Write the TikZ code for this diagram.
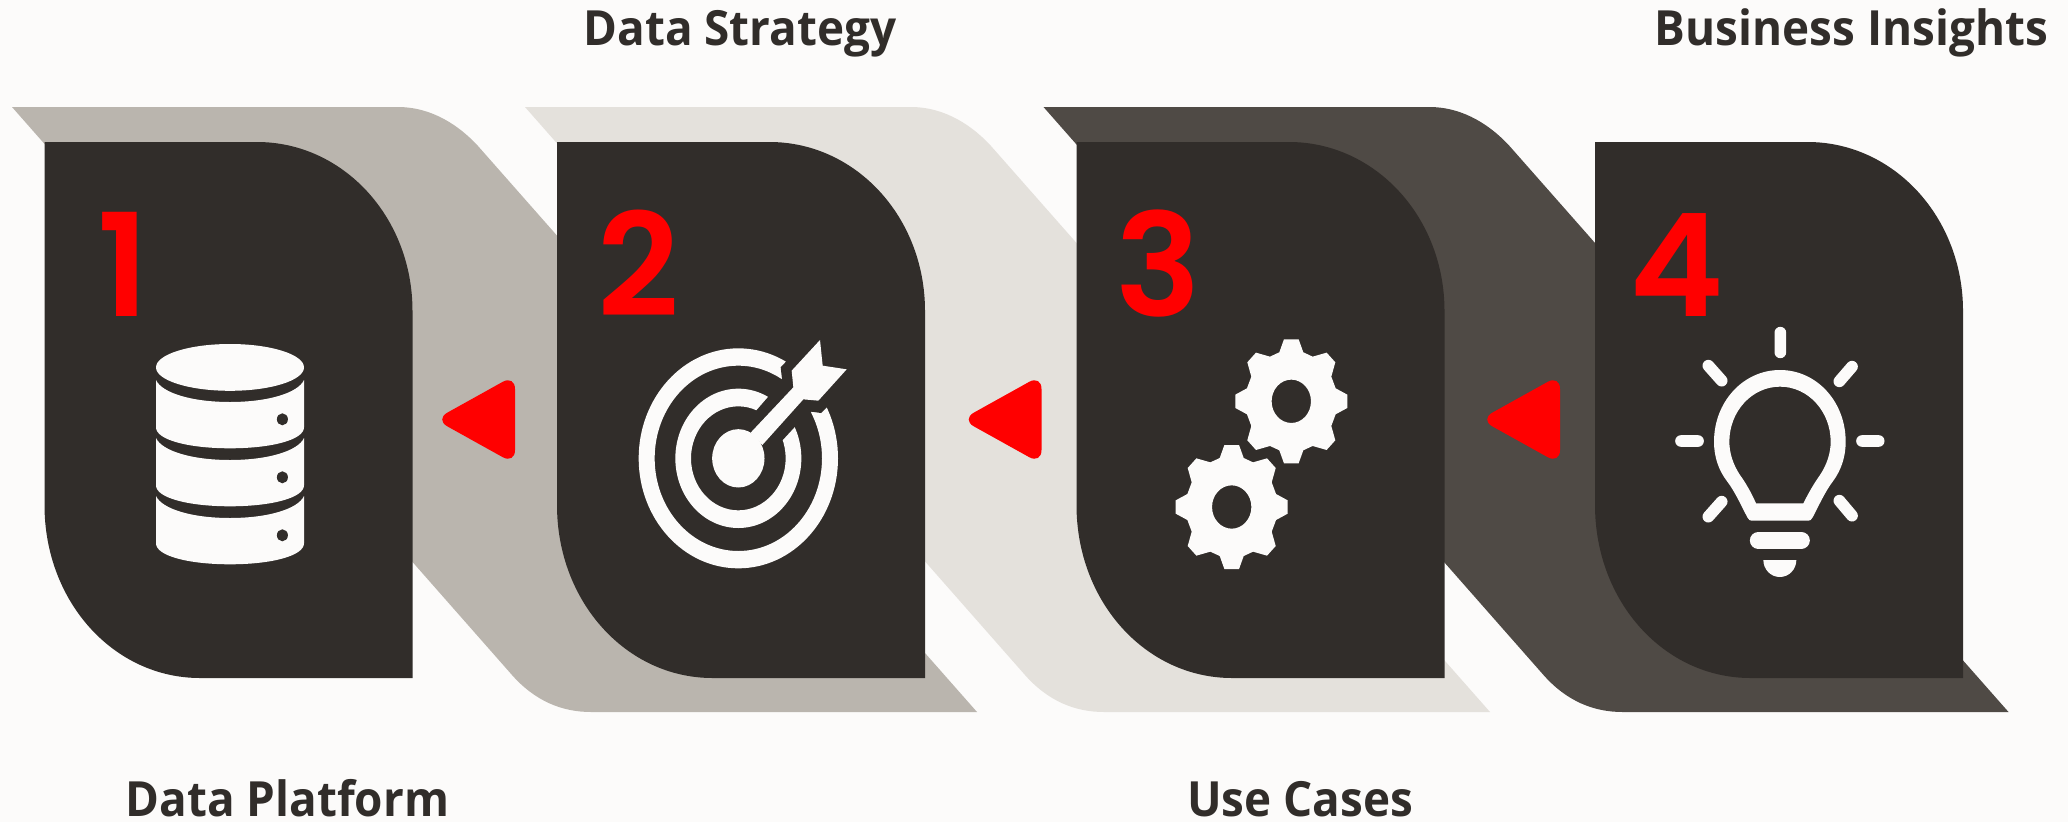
\documentclass[tikz,border=0pt]{standalone}
\usepackage{fontspec}
\setmainfont{Open Sans}
\newfontfamily\capfont[FakeStretch=0.945]{Open Sans}
\newfontfamily\numfont{Poppins SemiBold}
\definecolor{bgc}{HTML}{FCFBFA}
\definecolor{cardc}{HTML}{312D2A}
\definecolor{shA}{HTML}{BAB5AE}
\definecolor{shB}{HTML}{E4E1DC}
\definecolor{shC}{HTML}{4F4A45}
\definecolor{redc}{HTML}{FF0000}
\tikzset{
  caption/.style={anchor=base,inner sep=0pt,text=cardc,font=\capfont\fontsize{48.5}{58}\selectfont\bfseries},
  numeral/.style={anchor=base,inner sep=0pt,text=redc,font=\numfont\fontsize{143}{150}\selectfont},
  zoomed/.style={x=0.33333pt,y=-0.33333pt},
}
\newcommand{\shadowband}[2]{\fill[#2,shift={(#1,0)}] (12,107) -- (398,107) .. controls (426,107) and (454,120) .. (478,146) -- (977,712) -- (591,712) .. controls (562,712) and (535,701) .. (512,675) -- cycle;}
\newcommand{\cardbody}[1]{\fill[cardc,shift={(#1,0)}] (44.5,142) -- (257,142) .. controls (343,142) and (412.5,217) .. (412.5,311) -- (412.5,678) -- (200,678) .. controls (114,678) and (44.5,602) .. (44.5,505) -- cycle;}
\newcommand{\pointer}[1]{\fill[redc,rounded corners=14pt,shift={(#1,0)}] (435,419.5) -- (515,375) -- (515,464) -- cycle;}
\newcommand{\gearicon}[2]{\begin{scope}[shift={(#1,#2)},zoomed]
\fill[bgc,even odd rule] (-22,-186)--(22,-186)--(36,-147)--(64,-134)--(106,-146)--(132,-117)--(120,-74)--(133,-39)--(168,-20)--(168,20)--(133,39)--(120,74)--(132,117)--(106,146)--(64,134)--(36,147)--(22,186)--(-22,186)--(-36,147)--(-64,134)--(-106,146)--(-132,117)--(-120,74)--(-133,39)--(-168,20)--(-168,-20)--(-133,-39)--(-120,-74)--(-132,-117)--(-106,-146)--(-64,-134)--(-36,-147)--cycle (0,0) ellipse [x radius=59,y radius=65];
\end{scope}}
\begin{document}
\begin{tikzpicture}[x=1pt,y=-1pt]
\useasboundingbox (0,0) rectangle (2068,822);
\fill[bgc] (0,0) rectangle (2068,822);
\shadowband{0}{shA}
\shadowband{513}{shB}
\shadowband{1031.5}{shC}
\cardbody{0}
\cardbody{512.5}
\cardbody{1032}
\cardbody{1550.5}
\pointer{0}
\pointer{526.5}
\pointer{1045}
% numbers
\node[numeral] (n1) at (123,316.5) {1};
\node[numeral] (n2) at (638.5,316.5) {2};
\node[numeral] (n3) at (1158.5,316.5) {3};
\node[numeral] (n4) at (1677,316.5) {4};
% captions
\node[caption] (c1) at (287.5,816.5) {Data Platform};
\node[caption] (c2) at (740,45) {Data Strategy};
\node[caption] (c3) at (1300,816.5) {Use Cases};
\node[caption] (c4) at (1851.5,45) {Business Insights};
% database icon
\fill[bgc] (230,367.4) ellipse [x radius=74,y radius=23.4];
\foreach \d in {0,58,116}{
  \fill[bgc,shift={(0,\d)}] (156,380) .. controls (162,393) and (192,402) .. (230,402) .. controls (268,402) and (298,393) .. (304,380) -- (304,427.3) .. controls (304,440) and (271,448.3) .. (230,448.3) .. controls (189,448.3) and (156,440) .. (156,427.3) -- cycle;
  \fill[cardc] (282.4,419.3+\d) ellipse [x radius=5.5,y radius=6];
}
% target icon
\begin{scope}[shift={(560,310)},zoomed]
\fill[bgc,even odd rule] (535,445) ellipse [x radius=299,y radius=330] (535,445) ellipse [x radius=251,y radius=278];
\fill[bgc,even odd rule] (535,445) ellipse [x radius=189,y radius=209] (535,445) ellipse [x radius=142,y radius=156];
\fill[cardc] (690,130) -- (678,155) -- (662,172) -- (666,207) -- (625,260) -- (592,298) -- (570,325) -- (640,410) -- (670,388) -- (705,350) -- (755,305) -- (783,309) -- (800,292) -- (840,250) -- (760,100) -- cycle;
\fill[bgc] (535,445) ellipse [x radius=78.5,y radius=87.5];
\fill[bgc] (572,368) -- (700,232) -- (695,182) -- (780,90) -- (788,167) -- (860,178) -- (775,272) -- (730,268) -- (607,405) -- cycle;
\end{scope}
% gears
\gearicon{1291.3}{401.3}
\gearicon{1231.7}{507}
% bulb icon
\begin{scope}[shift={(1640,310)},zoomed]
\fill[bgc,even odd rule] (322,622) .. controls (305,590) and (285,545) .. (262,515) .. controls (235,480) and (222,440) .. (222,395) .. controls (222,275) and (310,180) .. (420,180) .. controls (530,180) and (617,275) .. (617,395) .. controls (617,440) and (604,480) .. (578,515) .. controls (555,545) and (535,590) .. (518,622) .. controls (514,630) and (510,632) .. (505,632) -- (335,632) .. controls (330,632) and (326,630) .. (322,622) -- cycle
(348,580) .. controls (335,550) and (318,520) .. (300,495) .. controls (280,465) and (268,430) .. (268,395) .. controls (268,305) and (335,230) .. (420,230) .. controls (505,230) and (572,305) .. (572,395) .. controls (572,430) and (560,465) .. (540,495) .. controls (522,520) and (505,550) .. (490,580) -- cycle;
\draw[bgc,line width=11.7pt,line cap=round] (421,68) -- (421,127) (123,393) -- (174,393) (666,393) -- (716,393) (205,167) -- (245,212) (636,170) -- (598,214) (245,575) -- (205,620) (598,572) -- (636,617);
\draw[bgc,line width=17pt,line cap=round] (355,691) -- (484,691);
\fill[bgc] (370,750) -- (469,750) .. controls (469,778) and (447,801) .. (419.5,801) .. controls (392,801) and (370,778) .. (370,750) -- cycle;
\end{scope}
\end{tikzpicture}
\end{document}
